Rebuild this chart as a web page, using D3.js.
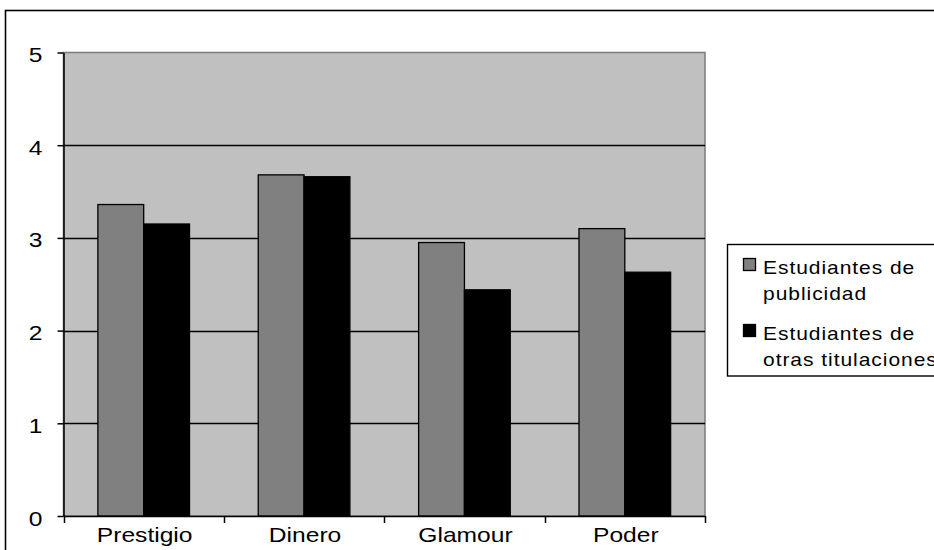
<!DOCTYPE html>
<html>
<head>
<meta charset="utf-8">
<script src="https://cdn.jsdelivr.net/npm/d3@7"></script>
<style>
  html, body { margin: 0; padding: 0; background: #fff; }
  svg { display: block; }
  text { font-family: Arial, "Liberation Sans", sans-serif; fill: #000; }
</style>
</head>
<body>
<svg id="chart" width="934" height="550"></svg>
<script>
// Data
const categories = ["Prestigio", "Dinero", "Glamour", "Poder"];
const seriesNames = ["Estudiantes de publicidad", "Estudiantes de otras titulaciones"];
const publicidad = [3.36, 3.68, 2.95, 3.10];
const otras = [3.15, 3.66, 2.44, 2.63];
const yTicks = [0, 1, 2, 3, 4, 5];
const legendLines = [["Estudiantes de", "publicidad"], ["Estudiantes de", "otras titulaciones"]];

const seriesValues = [publicidad, otras];
const colors = ["#808080", "#000000"];

const svg = d3.select("#chart");

// Outer chart frame
svg.append("rect")
  .attr("x", 5.5).attr("y", 10.5)
  .attr("width", 960).attr("height", 580)
  .attr("fill", "#fff").attr("stroke", "#000").attr("stroke-width", 1.6);

const plot = { left: 63.5, right: 705, top: 52.5, bottom: 516 };

const x0 = d3.scaleBand().domain(categories).range([plot.left, plot.right]).padding(0);
const x1 = d3.scaleBand().domain(d3.range(seriesNames.length))
  .range([0, x0.bandwidth()]).paddingInner(0).paddingOuter(0.75);
const y = d3.scaleLinear().domain([0, 5]).range([plot.bottom, plot.top]);

// Plot background
svg.append("rect")
  .attr("x", plot.left).attr("y", plot.top)
  .attr("width", plot.right - plot.left).attr("height", plot.bottom - plot.top)
  .attr("fill", "#C0C0C0").attr("stroke", "#808080").attr("stroke-width", 1.6);

// Gridlines
svg.append("g").selectAll("line")
  .data(yTicks.filter(d => d > 0 && d < 5))
  .join("line")
  .attr("x1", plot.left).attr("x2", plot.right)
  .attr("y1", d => Math.round(y(d)) + 0.5).attr("y2", d => Math.round(y(d)) + 0.5)
  .attr("stroke", "#000").attr("stroke-width", 1.3);

// Bars
const groups = svg.append("g").selectAll("g")
  .data(categories)
  .join("g")
  .attr("transform", d => `translate(${x0(d)},0)`);

groups.selectAll("rect")
  .data((c, i) => seriesValues.map((vals, s) => ({ s, v: vals[i] })))
  .join("rect")
  .attr("x", d => x1(d.s))
  .attr("width", x1.bandwidth())
  .attr("y", d => y(d.v))
  .attr("height", d => y(0) - y(d.v))
  .attr("fill", d => colors[d.s])
  .attr("stroke", "#000").attr("stroke-width", 1.3);

// Y axis
const yAxis = svg.append("g").attr("transform", `translate(${plot.left},0)`)
  .call(d3.axisLeft(y).tickValues(yTicks).tickSize(6).tickSizeOuter(0).tickFormat(d3.format("d")));
yAxis.select(".domain").attr("stroke", "#000").attr("stroke-width", 1.5);
yAxis.selectAll(".tick line").attr("stroke", "#000").attr("stroke-width", 1.5);
yAxis.selectAll(".tick text")
  .attr("x", null).attr("dy", null)
  .attr("font-size", 20.5)
  .attr("text-anchor", "end")
  .attr("transform", "translate(-21,9) scale(1.2,1)");

// X axis
const xAxis = svg.append("g").attr("transform", `translate(0,${plot.bottom})`)
  .call(d3.axisBottom(x0).tickSize(0).tickSizeOuter(0));
xAxis.select(".domain").attr("stroke", "#000").attr("stroke-width", 1.5);
xAxis.selectAll(".tick text")
  .attr("y", null).attr("dy", null)
  .attr("font-size", 20.5)
  .attr("transform", "translate(1,26) scale(1.2,1)");

// Category boundary ticks
const bounds = categories.map(c => x0(c)).concat([plot.right]);
svg.append("g").selectAll("line")
  .data(bounds)
  .join("line")
  .attr("x1", d => Math.round(d) + 0.5).attr("x2", d => Math.round(d) + 0.5)
  .attr("y1", plot.bottom).attr("y2", plot.bottom + 7)
  .attr("stroke", "#000").attr("stroke-width", 1.5);

// Legend
const legend = svg.append("g");
legend.append("rect")
  .attr("x", 727.5).attr("y", 244.5)
  .attr("width", 260).attr("height", 131.5)
  .attr("fill", "#fff").attr("stroke", "#000").attr("stroke-width", 1.4);

const entryY = [258, 324];
legendLines.forEach((lines, i) => {
  legend.append("rect")
    .attr("x", 743.5).attr("y", entryY[i] + 0.5)
    .attr("width", 12).attr("height", 12)
    .attr("fill", colors[i]).attr("stroke", "#000").attr("stroke-width", 1.3);
  lines.forEach((t, j) => {
    legend.append("text")
      .attr("font-size", 17.5)
      .attr("letter-spacing", 0.8)
      .attr("transform", `translate(763,${entryY[i] + 16 + j * 26}) scale(1.2,1)`)
      .text(t);
  });
});
</script>
</body>
</html>
